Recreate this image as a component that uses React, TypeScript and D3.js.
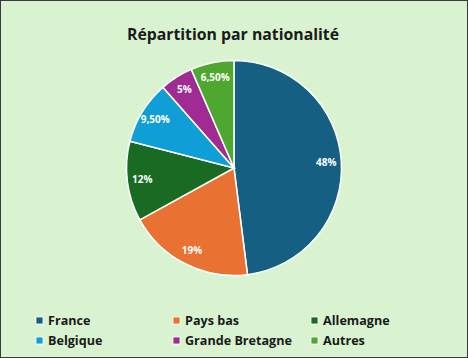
import React from "react";
import * as d3 from "d3";

const categories = ["France", "Pays bas", "Allemagne", "Belgique", "Grande Bretagne", "Autres"];
const values = [48, 19, 12, 9.5, 5, 6.5];
const labels = ["48%", "19%", "12%", "9,50%", "5%", "6,50%"];
const colors = ["#156082", "#E97132", "#196B24", "#0F9ED5", "#A02B93", "#4EA72E"];

const W = 468;
const H = 358;
const cx = 234;
const cy = 168;
const R = 107.5;
const FONT = "'Open Sans', 'Noto Sans', sans-serif";

export default function App() {
  const pie = d3.pie<number>().sort(null).value((d) => d)(values);
  const arc = d3.arc<d3.PieArcDatum<number>>().innerRadius(0).outerRadius(R);
  const labelArc = d3.arc<d3.PieArcDatum<number>>().innerRadius(R * 0.86).outerRadius(R * 0.86);

  const legendCols = [36, 173, 311];
  const legendRows = [321, 341];

  return (
    <svg width={W} height={H} style={{ position: "absolute", left: 0, top: 0 }}>
      <rect x={0.5} y={0.5} width={W - 1} height={H - 1} fill="#D9F2D0" stroke="#3a3a3a" strokeWidth={1} />
      <text x={233} y={39.5} textAnchor="middle" fontFamily={FONT} fontWeight={700} fontSize={15.8} fill="#1a1a1a">
        Répartition par nationalité
      </text>
      <g transform={`translate(${cx},${cy})`}>
        {pie.map((p, i) => (
          <path key={i} d={arc(p) || ""} fill={colors[i]} stroke="#ffffff" strokeWidth={1.5} />
        ))}
        {pie.map((p, i) => {
          const [x, y] = labelArc.centroid(p);
          return (
            <text key={i} x={x} y={y} dy="0.35em" textAnchor="middle" fontFamily={FONT} fontWeight={700} fontSize={10} fill="#ffffff">
              {labels[i]}
            </text>
          );
        })}
      </g>
      {categories.map((c, i) => {
        const x = legendCols[i % 3];
        const y = legendRows[Math.floor(i / 3)];
        return (
          <g key={c}>
            <rect x={x} y={y - 4} width={7} height={7} fill={colors[i]} stroke="#ffffff" strokeWidth={0.8} />
            <text x={x + 12} y={y} dy="0.35em" fontFamily={FONT} fontWeight={700} fontSize={12.6} fill="#1a1a1a">
              {c}
            </text>
          </g>
        );
      })}
    </svg>
  );
}
